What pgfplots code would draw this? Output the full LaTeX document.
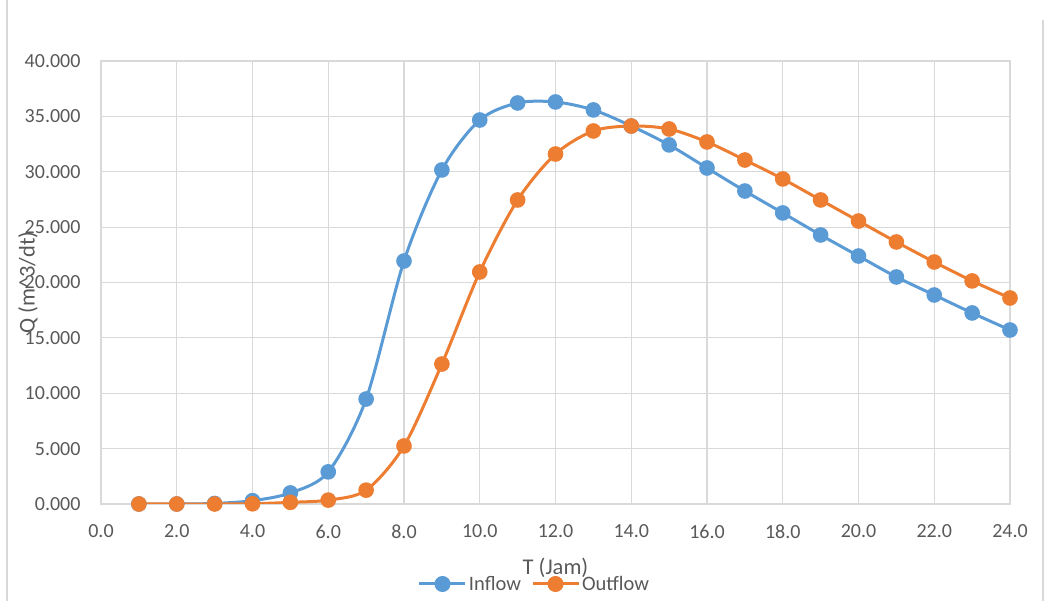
\documentclass[border=0pt]{standalone}
\usepackage{pgfplots}
\pgfplotsset{compat=1.18}
\usepackage{fontspec}
\setmainfont{Carlito}
\definecolor{cin}{HTML}{5B9BD5}
\definecolor{cout}{HTML}{ED7D31}
\definecolor{gridc}{HTML}{D9D9D9}
\definecolor{txt}{HTML}{595959}
\begin{document}
\begin{tikzpicture}
\path[use as bounding box] (-101pt,-97pt) rectangle (959pt,504pt);
\draw[gridc, line width=1.2pt] (-94pt,-97pt) -- (-94pt,504pt);
\draw[gridc, line width=1.2pt] (942pt,-97pt) -- (942pt,484pt);
\begin{axis}[
  scale only axis, width=909pt, height=443pt,
  xmin=0, xmax=24, ymin=0, ymax=40000,
  xtick={0,2,...,24},
  xticklabels={0.0,2.0,4.0,6.0,8.0,10.0,12.0,14.0,16.0,18.0,20.0,22.0,24.0},
  ytick={0,5000,...,40000},
  yticklabels={0.000,5.000,10.000,15.000,20.000,25.000,30.000,35.000,40.000},
  scaled y ticks=false,
  tick style={draw=none},
  grid=major,
  grid style={gridc, line width=1.2pt},
  axis line style={gridc, line width=1.2pt},
  tick label style={font=\fontsize{20}{23}\selectfont, text=txt},
  yticklabel style={xshift=-17pt},
  xticklabel style={yshift=-17pt},
  xlabel={T (Jam)},
  ylabel={Q (m\^{}3/dt)},
  label style={font=\fontsize{22.5}{26}\selectfont, text=txt},
  xlabel style={at={(rel axis cs:0.5,0)}, anchor=center, yshift=-64pt},
  ylabel style={at={(rel axis cs:0,0.5)}, anchor=center, yshift=73pt},
  legend style={at={(rel axis cs:0.5,0)}, anchor=center, xshift=-21pt, yshift=-80pt,
    draw=none, fill=none, font=\fontsize{20.5}{24}\selectfont, text=txt,
    /tikz/every even column/.append style={column sep=8pt}},
  legend columns=2,
  legend image code/.code={\draw[#1, line width=3pt] (0pt,0pt) -- (46pt,0pt); \fill[#1] (23pt,0pt) circle (6.5pt);},
]
\addplot[cin, line width=3pt, smooth, tension=0.5, mark=*, mark size=6.3pt, mark options={fill=cin, draw=cin}] coordinates {
(1,0) (2,0) (3,50) (4,300) (5,1000) (6,2900) (7,9480) (8,21940) (9,30160) (10,34670)
(11,36210) (12,36300) (13,35580) (14,34130) (15,32420) (16,30340) (17,28260) (18,26280)
(19,24290) (20,22390) (21,20500) (22,18870) (23,17250) (24,15710)};
\addlegendentry{Inflow}
\addplot[cout, line width=3pt, smooth, tension=0.5, mark=*, mark size=6.3pt, mark options={fill=cout, draw=cout}] coordinates {
(1,0) (2,0) (3,0) (4,20) (5,150) (6,350) (7,1250) (8,5240) (9,12640) (10,20950)
(11,27450) (12,31600) (13,33680) (14,34130) (15,33860) (16,32690) (17,31060) (18,29350)
(19,27450) (20,25550) (21,23660) (22,21850) (23,20140) (24,18600)};
\addlegendentry{Outflow}
\end{axis}
\end{tikzpicture}
\end{document}
